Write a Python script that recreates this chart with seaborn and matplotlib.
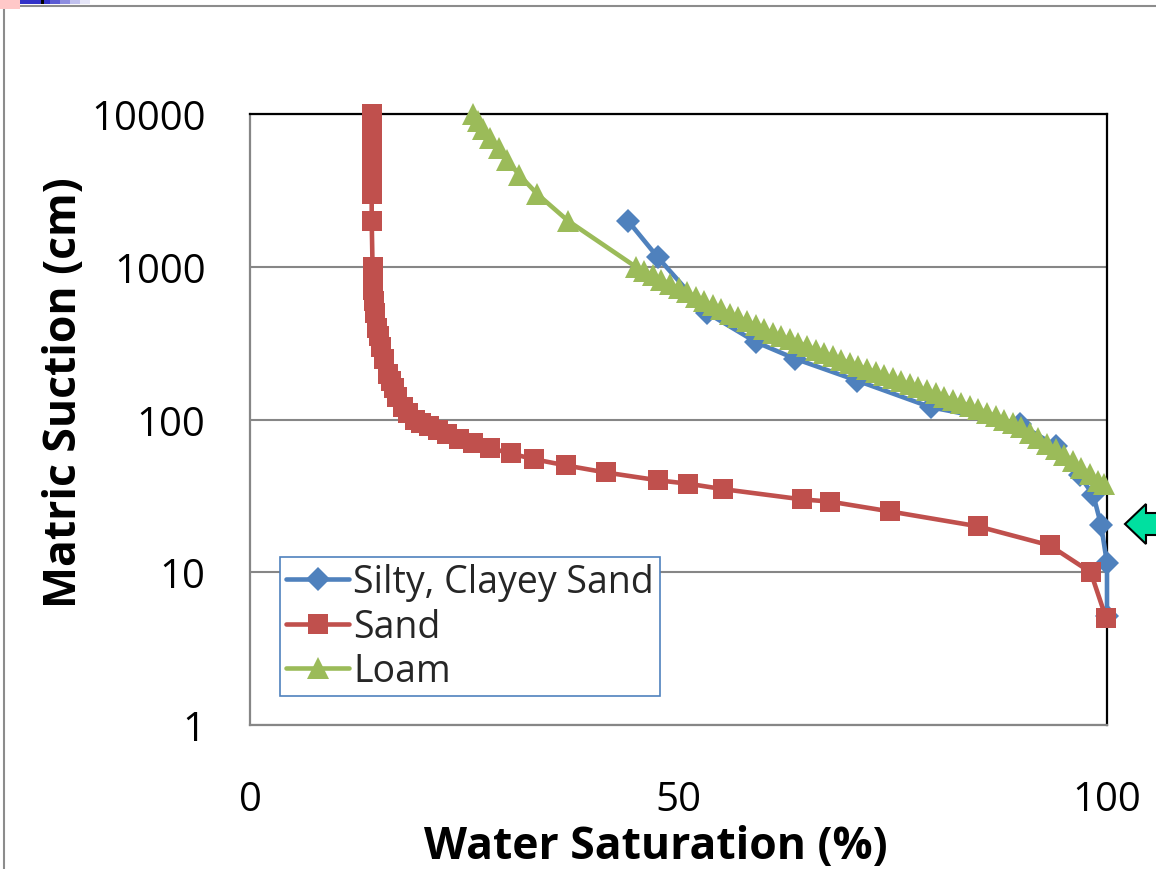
import numpy as np
import pandas as pd
import seaborn as sns
import matplotlib
matplotlib.use("Agg")
import matplotlib.pyplot as plt
from matplotlib.patches import Rectangle, Polygon
from matplotlib.lines import Line2D

# ---------------- data ----------------
silty_suction = [2000, 1150, 500, 320, 250, 180, 120, 93, 67, 43, 32, 20.5, 11.5, 5.2]
silty_sat = [44.1, 47.6, 53.3, 59.1, 63.6, 70.8, 79.5, 89.8, 94.1, 96.8, 98.4, 99.3, 100, 100]

sand_suction = [10000, 9000, 8000, 7000, 6000, 5000, 4000, 3000, 2000,
                1000, 900, 800, 700, 600, 500, 400, 350, 300, 250, 200,
                180, 160, 140, 120, 110, 100,
                95, 90, 85, 80, 75, 70, 65, 60, 55, 50, 45, 40,
                38, 35, 30, 29, 25, 20, 15, 10, 5]
sand_sat = [14.2, 14.2, 14.2, 14.2, 14.2, 14.2, 14.2, 14.2, 14.2,
            14.3, 14.3, 14.4, 14.4, 14.5, 14.6, 14.8, 15.0, 15.3, 15.6, 16.1,
            16.4, 16.8, 17.2, 17.8, 18.4, 19.3,
            20.0, 20.9, 21.9, 23.0, 24.4, 26.0, 28.0, 30.4, 33.1, 36.9, 41.5, 47.6,
            51.1, 55.2, 64.4, 67.7, 74.7, 84.9, 93.3, 98.1, 99.9]

loam_suction = [10000, 9000, 8000, 7000, 6000, 5000, 4000, 3000, 2000,
                1000, 938, 879, 824, 773, 724, 679, 637, 597, 560, 525,
                494, 466, 439, 413, 389, 370, 352, 334, 318, 302,
                287, 273, 259, 247, 234, 224, 214, 204, 195, 186,
                178, 170, 162, 155, 148, 141, 135, 129, 123, 117,
                111, 105, 99.5, 94.2, 89.1, 82.0, 75.5, 69.5, 64.0, 58.9,
                53.5, 48.4, 44.0, 39.8, 38.0]
loam_sat = [26.0, 26.6, 27.2, 28.0, 29.0, 30.0, 31.4, 33.5, 37.1,
            45, 46, 47, 48, 49, 50, 51, 52, 53, 54, 55,
            56, 57, 58, 59, 60, 61, 62, 63, 64, 65,
            66, 67, 68, 69, 70, 71, 72, 73, 74, 75,
            76, 77, 78, 79, 80, 81, 82, 83, 84, 85,
            86, 87, 88, 89, 90, 91, 92, 93, 94, 95,
            96, 97, 98, 99, 99.6]

series_names = ["Silty, Clayey Sand", "Sand", "Loam"]
y_ticks = [1, 10, 100, 1000, 10000]
y_tick_labels = ["1", "10", "100", "1000", "10000"]
x_ticks = [0, 50, 100]
x_tick_labels = ["0", "50", "100"]

# ---------------- style ----------------
sns.set_theme(style="white")
plt.rcParams['font.family'] = ['Open Sans', 'DejaVu Sans']

W, H = 1156, 870
fig = plt.figure(figsize=(W / 100, H / 100), dpi=100)
ax = fig.add_axes([250 / W, 1 - 726 / H, 857 / W, 611 / H])

blue, red, green = "#4F81BD", "#C0504D", "#9BBB59"

df_silty = pd.DataFrame({"sat": silty_sat, "suction": silty_suction})
df_sand = pd.DataFrame({"sat": sand_sat, "suction": sand_suction})
df_loam = pd.DataFrame({"sat": loam_sat, "suction": loam_suction})

lw = 3.3
d_ms, s_ms, t_ms = 12, 14, 16
sns.lineplot(data=df_silty, x="sat", y="suction", ax=ax, sort=False, estimator=None,
             color=blue, lw=lw, marker="D", markersize=d_ms, markeredgewidth=0,
             zorder=3, clip_on=False)
sns.lineplot(data=df_sand, x="sat", y="suction", ax=ax, sort=False, estimator=None,
             color=red, lw=lw, marker="s", markersize=s_ms, markeredgewidth=0,
             zorder=4, clip_on=False)
sns.lineplot(data=df_loam, x="sat", y="suction", ax=ax, sort=False, estimator=None,
             color=green, lw=lw, marker="^", markersize=t_ms, markeredgewidth=0,
             zorder=5, clip_on=False)

ax.set_yscale("log")
ax.set_xlim(0, 100)
ax.set_ylim(1, 10000)
ax.set_yticks(y_ticks)
ax.set_yticklabels(y_tick_labels)
ax.yaxis.set_minor_locator(matplotlib.ticker.NullLocator())
ax.set_xticks(x_ticks)
ax.set_xticklabels(x_tick_labels)
ax.tick_params(axis="both", length=0, labelsize=29, colors="black")
ax.tick_params(axis="x", pad=39)
ax.tick_params(axis="y", pad=32)

ax.grid(axis="y", color="#868686", lw=1.5)
ax.grid(axis="x", visible=False)
ax.set_axisbelow(True)

for s in ["top", "right"]:
    ax.spines[s].set_color("black")
    ax.spines[s].set_linewidth(1.6)
for s in ["left", "bottom"]:
    ax.spines[s].set_color("#868686")
    ax.spines[s].set_linewidth(1.6)

ax.set_xlabel("Water Saturation (%)", fontsize=32, fontweight="bold", color="black")
ax.set_ylabel("Matric Suction (cm)", fontsize=32, fontweight="bold", color="black")
ax.xaxis.set_label_coords((656 - 250) / 857, (726 - 848) / 611)
ax.yaxis.set_label_coords((65 - 250) / 857, (726 - 393) / 611)
ax.xaxis.label.set_va("center")
ax.yaxis.label.set_va("center")

handles = [
    Line2D([], [], color=blue, lw=lw, marker="D", markersize=d_ms, markeredgewidth=0),
    Line2D([], [], color=red, lw=lw, marker="s", markersize=s_ms, markeredgewidth=0),
    Line2D([], [], color=green, lw=lw, marker="^", markersize=t_ms, markeredgewidth=0),
]
leg = ax.legend(handles, series_names, loc="lower left",
                bbox_to_anchor=((280 - 250) / 857, (726 - 697) / 611),
                borderaxespad=0, fontsize=27, frameon=True, fancybox=False,
                framealpha=1, edgecolor=blue, handlelength=1.7, handletextpad=0.1,
                labelspacing=0.18, borderpad=0.15, numpoints=1)
leg.get_frame().set_linewidth(1.2)
leg.set_zorder(10)

# chart outer border
fig.patches.append(Rectangle((4 / W, -0.1), 1.2, 1 - 7 / H + 0.1, transform=fig.transFigure,
                             fill=False, edgecolor="#8c8c8c", lw=1.5, zorder=0))
# slide decorations at top-left
fig.patches.append(Rectangle((0, 1 - 10 / H), 20 / W, 10 / H, transform=fig.transFigure,
                             facecolor="#ffc8c8", edgecolor="none"))
for i, a in enumerate([1.0, 1.0, 1.0, 0.8, 0.55, 0.3, 0.12]):
    fig.patches.append(Rectangle(((20 + i * 10) / W, 1 - 5 / H), 10 / W, 5 / H,
                                 transform=fig.transFigure, facecolor="#3232c8",
                                 alpha=a, edgecolor="none"))
fig.patches.append(Rectangle((41 / W, 1 - 5 / H), 2.5 / W, 5 / H, transform=fig.transFigure,
                             facecolor="black", edgecolor="none"))
# green arrow at right edge
arrow_pts = [(1125, 525), (1146, 505), (1146, 514), (1160, 514),
             (1160, 536), (1146, 536), (1146, 545)]
fig.patches.append(Polygon([(x / W, 1 - y / H) for x, y in arrow_pts], closed=True,
                           transform=fig.transFigure, facecolor="#00E0A0",
                           edgecolor="black", lw=1.5))

fig.savefig("out.png", dpi=100)
